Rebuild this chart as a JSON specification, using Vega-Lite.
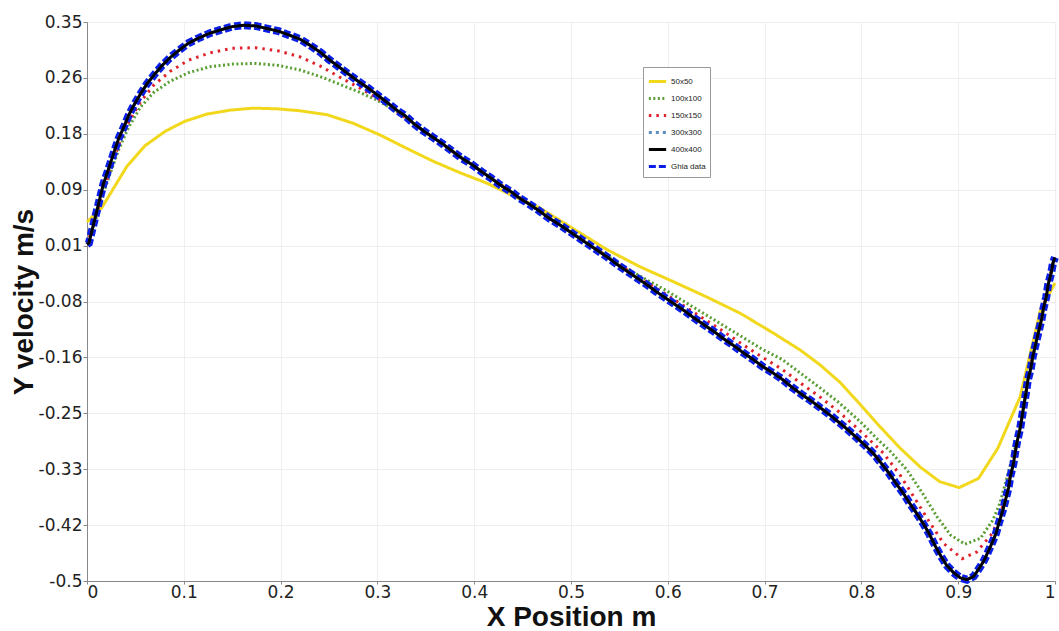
{
  "$schema": "https://vega.github.io/schema/vega-lite/v6.json",
  "width": 968,
  "height": 559,
  "autosize": "none",
  "padding": {"left": 87, "top": 22, "right": 4, "bottom": 50},
  "background": "white",
  "datasets": {
    "black": [
      {"x":0,"y":0.012},{"x":0.002,"y":0.014},{"x":0.005,"y":0.032},{"x":0.008,"y":0.050},{"x":0.011,"y":0.068},{"x":0.014,"y":0.086},{"x":0.017,"y":0.104},{"x":0.021,"y":0.121},{"x":0.025,"y":0.139},{"x":0.029,"y":0.157},{"x":0.033,"y":0.174},{"x":0.038,"y":0.190},{"x":0.043,"y":0.208},{"x":0.049,"y":0.225},{"x":0.055,"y":0.240},{"x":0.062,"y":0.256},{"x":0.069,"y":0.269},{"x":0.077,"y":0.283},{"x":0.086,"y":0.296},{"x":0.095,"y":0.307},{"x":0.105,"y":0.318},{"x":0.116,"y":0.326},{"x":0.127,"y":0.333},{"x":0.138,"y":0.338},{"x":0.150,"y":0.343},{"x":0.162,"y":0.345},{"x":0.174,"y":0.344},{"x":0.186,"y":0.340},{"x":0.198,"y":0.336},{"x":0.209,"y":0.330},{"x":0.220,"y":0.324},{"x":0.230,"y":0.315},{"x":0.241,"y":0.304},{"x":0.250,"y":0.293},{"x":0.260,"y":0.282},{"x":0.270,"y":0.271},{"x":0.280,"y":0.260},{"x":0.290,"y":0.250},{"x":0.300,"y":0.239},{"x":0.309,"y":0.229},{"x":0.319,"y":0.217},{"x":0.329,"y":0.207},{"x":0.338,"y":0.195},{"x":0.348,"y":0.184},{"x":0.358,"y":0.174},{"x":0.368,"y":0.164},{"x":0.377,"y":0.154},{"x":0.387,"y":0.143},{"x":0.398,"y":0.133},{"x":0.408,"y":0.122},{"x":0.417,"y":0.113},{"x":0.427,"y":0.102},{"x":0.438,"y":0.092},{"x":0.447,"y":0.082},{"x":0.458,"y":0.072},{"x":0.467,"y":0.063},{"x":0.478,"y":0.051},{"x":0.488,"y":0.042},{"x":0.498,"y":0.032},{"x":0.508,"y":0.022},{"x":0.518,"y":0.012},{"x":0.528,"y":0.002},{"x":0.538,"y":-0.008},{"x":0.548,"y":-0.019},{"x":0.558,"y":-0.029},{"x":0.568,"y":-0.039},{"x":0.578,"y":-0.049},{"x":0.588,"y":-0.060},{"x":0.598,"y":-0.070},{"x":0.608,"y":-0.080},{"x":0.618,"y":-0.090},{"x":0.628,"y":-0.101},{"x":0.638,"y":-0.111},{"x":0.648,"y":-0.121},{"x":0.658,"y":-0.132},{"x":0.668,"y":-0.142},{"x":0.678,"y":-0.153},{"x":0.688,"y":-0.163},{"x":0.698,"y":-0.174},{"x":0.708,"y":-0.183},{"x":0.718,"y":-0.193},{"x":0.728,"y":-0.205},{"x":0.738,"y":-0.216},{"x":0.748,"y":-0.226},{"x":0.757,"y":-0.236},{"x":0.767,"y":-0.247},{"x":0.777,"y":-0.259},{"x":0.786,"y":-0.270},{"x":0.795,"y":-0.282},{"x":0.804,"y":-0.294},{"x":0.813,"y":-0.307},{"x":0.820,"y":-0.320},{"x":0.828,"y":-0.335},{"x":0.835,"y":-0.350},{"x":0.843,"y":-0.366},{"x":0.850,"y":-0.382},{"x":0.857,"y":-0.397},{"x":0.864,"y":-0.413},{"x":0.870,"y":-0.428},{"x":0.876,"y":-0.446},{"x":0.882,"y":-0.462},{"x":0.888,"y":-0.476},{"x":0.895,"y":-0.487},{"x":0.902,"y":-0.495},{"x":0.909,"y":-0.498},{"x":0.916,"y":-0.493},{"x":0.922,"y":-0.480},{"x":0.927,"y":-0.468},{"x":0.932,"y":-0.452},{"x":0.935,"y":-0.442},{"x":0.939,"y":-0.428},{"x":0.942,"y":-0.412},{"x":0.946,"y":-0.393},{"x":0.949,"y":-0.376},{"x":0.952,"y":-0.358},{"x":0.954,"y":-0.340},{"x":0.957,"y":-0.322},{"x":0.959,"y":-0.303},{"x":0.961,"y":-0.287},{"x":0.964,"y":-0.268},{"x":0.966,"y":-0.250},{"x":0.968,"y":-0.231},{"x":0.970,"y":-0.214},{"x":0.972,"y":-0.194},{"x":0.975,"y":-0.177},{"x":0.977,"y":-0.159},{"x":0.980,"y":-0.140},{"x":0.983,"y":-0.121},{"x":0.986,"y":-0.103},{"x":0.988,"y":-0.086},{"x":0.991,"y":-0.068},{"x":0.993,"y":-0.049},{"x":0.996,"y":-0.032},{"x":0.998,"y":-0.016},{"x":1.0,"y":-0.008}
    ],
    "green": [
      {"x":0,"y":0.012},{"x":0.008,"y":0.045},{"x":0.017,"y":0.090},{"x":0.025,"y":0.124},{"x":0.033,"y":0.157},{"x":0.043,"y":0.190},{"x":0.055,"y":0.220},{"x":0.069,"y":0.243},{"x":0.086,"y":0.260},{"x":0.105,"y":0.273},{"x":0.127,"y":0.282},{"x":0.150,"y":0.286},{"x":0.174,"y":0.287},{"x":0.198,"y":0.284},{"x":0.220,"y":0.277},{"x":0.241,"y":0.267},{"x":0.260,"y":0.256},{"x":0.280,"y":0.244},{"x":0.300,"y":0.231},{"x":0.319,"y":0.214},{"x":0.338,"y":0.195},{"x":0.358,"y":0.174},{"x":0.377,"y":0.154},{"x":0.398,"y":0.133},{"x":0.417,"y":0.113},{"x":0.438,"y":0.092},{"x":0.458,"y":0.072},{"x":0.478,"y":0.051},{"x":0.498,"y":0.032},{"x":0.518,"y":0.012},{"x":0.538,"y":-0.006},{"x":0.558,"y":-0.025},{"x":0.578,"y":-0.042},{"x":0.598,"y":-0.058},{"x":0.618,"y":-0.076},{"x":0.638,"y":-0.094},{"x":0.658,"y":-0.112},{"x":0.678,"y":-0.130},{"x":0.698,"y":-0.148},{"x":0.718,"y":-0.163},{"x":0.738,"y":-0.185},{"x":0.757,"y":-0.206},{"x":0.777,"y":-0.229},{"x":0.799,"y":-0.258},{"x":0.815,"y":-0.282},{"x":0.830,"y":-0.303},{"x":0.847,"y":-0.331},{"x":0.862,"y":-0.364},{"x":0.878,"y":-0.402},{"x":0.892,"y":-0.430},{"x":0.907,"y":-0.444},{"x":0.923,"y":-0.435},{"x":0.936,"y":-0.407},{"x":0.943,"y":-0.382},{"x":0.950,"y":-0.345},{"x":0.956,"y":-0.312},{"x":0.961,"y":-0.287},{"x":0.964,"y":-0.268},{"x":0.968,"y":-0.231},{"x":0.972,"y":-0.194},{"x":0.977,"y":-0.159},{"x":0.983,"y":-0.121},{"x":0.988,"y":-0.086},{"x":0.993,"y":-0.049},{"x":0.998,"y":-0.016},{"x":1.0,"y":-0.008}
    ],
    "red": [
      {"x":0,"y":0.012},{"x":0.008,"y":0.047},{"x":0.017,"y":0.096},{"x":0.025,"y":0.130},{"x":0.033,"y":0.164},{"x":0.043,"y":0.198},{"x":0.055,"y":0.228},{"x":0.069,"y":0.254},{"x":0.086,"y":0.275},{"x":0.105,"y":0.292},{"x":0.127,"y":0.303},{"x":0.150,"y":0.310},{"x":0.174,"y":0.311},{"x":0.198,"y":0.306},{"x":0.220,"y":0.297},{"x":0.241,"y":0.283},{"x":0.260,"y":0.267},{"x":0.280,"y":0.251},{"x":0.300,"y":0.234},{"x":0.319,"y":0.215},{"x":0.338,"y":0.195},{"x":0.358,"y":0.174},{"x":0.377,"y":0.154},{"x":0.398,"y":0.133},{"x":0.417,"y":0.113},{"x":0.438,"y":0.092},{"x":0.458,"y":0.072},{"x":0.478,"y":0.051},{"x":0.498,"y":0.032},{"x":0.518,"y":0.012},{"x":0.538,"y":-0.007},{"x":0.558,"y":-0.027},{"x":0.578,"y":-0.046},{"x":0.598,"y":-0.064},{"x":0.618,"y":-0.083},{"x":0.638,"y":-0.102},{"x":0.658,"y":-0.121},{"x":0.678,"y":-0.141},{"x":0.698,"y":-0.160},{"x":0.718,"y":-0.178},{"x":0.738,"y":-0.200},{"x":0.757,"y":-0.220},{"x":0.777,"y":-0.243},{"x":0.799,"y":-0.272},{"x":0.823,"y":-0.306},{"x":0.840,"y":-0.339},{"x":0.855,"y":-0.374},{"x":0.871,"y":-0.412},{"x":0.885,"y":-0.443},{"x":0.904,"y":-0.466},{"x":0.919,"y":-0.456},{"x":0.935,"y":-0.428},{"x":0.943,"y":-0.402},{"x":0.950,"y":-0.365},{"x":0.956,"y":-0.325},{"x":0.959,"y":-0.303},{"x":0.961,"y":-0.287},{"x":0.964,"y":-0.268},{"x":0.968,"y":-0.231},{"x":0.972,"y":-0.194},{"x":0.977,"y":-0.159},{"x":0.983,"y":-0.121},{"x":0.988,"y":-0.086},{"x":0.993,"y":-0.049},{"x":0.998,"y":-0.016},{"x":1.0,"y":-0.008}
    ],
    "yellow": [
      {"x":0,"y":0.046},{"x":0.015,"y":0.067},{"x":0.041,"y":0.130},{"x":0.060,"y":0.162},{"x":0.081,"y":0.184},{"x":0.101,"y":0.199},{"x":0.124,"y":0.210},{"x":0.148,"y":0.216},{"x":0.172,"y":0.219},{"x":0.196,"y":0.218},{"x":0.220,"y":0.215},{"x":0.248,"y":0.209},{"x":0.275,"y":0.196},{"x":0.303,"y":0.178},{"x":0.330,"y":0.158},{"x":0.358,"y":0.138},{"x":0.385,"y":0.121},{"x":0.413,"y":0.105},{"x":0.434,"y":0.090},{"x":0.468,"y":0.067},{"x":0.502,"y":0.036},{"x":0.537,"y":0.004},{"x":0.571,"y":-0.022},{"x":0.606,"y":-0.045},{"x":0.640,"y":-0.068},{"x":0.675,"y":-0.093},{"x":0.709,"y":-0.123},{"x":0.737,"y":-0.149},{"x":0.757,"y":-0.171},{"x":0.778,"y":-0.198},{"x":0.799,"y":-0.232},{"x":0.819,"y":-0.265},{"x":0.840,"y":-0.298},{"x":0.861,"y":-0.327},{"x":0.881,"y":-0.349},{"x":0.901,"y":-0.358},{"x":0.921,"y":-0.344},{"x":0.941,"y":-0.298},{"x":0.964,"y":-0.220},{"x":0.985,"y":-0.088},{"x":1.0,"y":-0.047}
    ]
  },
  "encoding": {
    "x": {
      "field": "x", "type": "quantitative",
      "scale": {"domain": [0, 1], "nice": false, "zero": false},
      "axis": {
        "title": "X Position m",
        "values": [0, 0.1, 0.2, 0.3, 0.4, 0.5, 0.6, 0.7, 0.8, 0.9, 1],
        "format": "~g",
        "tickSize": 3,
        "labelPadding": 0,
        "titleY": 44,
        "titleBaseline": "alphabetic"
      }
    },
    "y": {
      "field": "y", "type": "quantitative",
      "scale": {"domain": [-0.5, 0.35], "nice": false, "zero": false},
      "axis": {
        "title": "Y velocity m/s",
        "values": [-0.5, -0.415, -0.33, -0.245, -0.16, -0.075, 0.01, 0.095, 0.18, 0.265, 0.35],
        "labelExpr": "['-0.5','-0.42','-0.33','-0.25','-0.16','-0.08','0.01','0.09','0.18','0.26','0.35'][round((datum.value+0.5)/0.085)]",
        "tickSize": 4,
        "labelPadding": 1,
        "titleX": -55,
        "titleBaseline": "alphabetic"
      }
    }
  },
  "layer": [
    {
      "data": {"name": "yellow"},
      "mark": {"type": "line", "strokeWidth": 3, "strokeCap": "butt"},
      "encoding": {
        "color": {"datum": "50x50", "type": "nominal",
          "scale": {"domain": ["50x50", "100x100", "150x150", "300x300", "400x400", "Ghia data"], "range": ["#f2d81c", "#5a9d32", "#e0232b", "#5b8cc0", "#000000", "#0a1ee8"]},
          "legend": {"title": null, "orient": "none", "legendX": 556, "legendY": 45}},
        "strokeDash": {"datum": "50x50", "type": "nominal",
          "scale": {"domain": ["50x50", "100x100", "150x150", "300x300", "400x400", "Ghia data"], "range": [[1, 0], [2, 2.5], [2.5, 5], [3, 4], [1, 0], [7, 3]]},
          "legend": {"title": null, "orient": "none", "legendX": 556, "legendY": 45}}
      }
    },
    {
      "data": {"name": "green"},
      "mark": {"type": "line", "strokeWidth": 3, "strokeCap": "butt"},
      "encoding": {
        "color": {"datum": "100x100", "type": "nominal"},
        "strokeDash": {"datum": "100x100", "type": "nominal"}
      }
    },
    {
      "data": {"name": "red"},
      "mark": {"type": "line", "strokeWidth": 3, "strokeCap": "butt"},
      "encoding": {
        "color": {"datum": "150x150", "type": "nominal"},
        "strokeDash": {"datum": "150x150", "type": "nominal"}
      }
    },
    {
      "data": {"name": "black"},
      "mark": {"type": "line", "strokeWidth": 8, "strokeCap": "butt"},
      "encoding": {
        "color": {"datum": "Ghia data", "type": "nominal"},
        "strokeDash": {"datum": "Ghia data", "type": "nominal"}
      }
    },
    {
      "data": {"name": "black"},
      "mark": {"type": "line", "strokeWidth": 3, "strokeCap": "butt"},
      "encoding": {
        "color": {"datum": "300x300", "type": "nominal"},
        "strokeDash": {"datum": "300x300", "type": "nominal"}
      }
    },
    {
      "data": {"name": "black"},
      "mark": {"type": "line", "strokeWidth": 3, "strokeCap": "butt"},
      "encoding": {
        "color": {"datum": "400x400", "type": "nominal"},
        "strokeDash": {"datum": "400x400", "type": "nominal"}
      }
    }
  ],
  "config": {
    "view": {"stroke": null},
    "axis": {
      "labelFont": "DejaVu Sans",
      "labelFontSize": 17,
      "labelColor": "#222222",
      "titleFont": "Liberation Sans",
      "titleFontWeight": "bold",
      "titleFontSize": 28,
      "titleColor": "#111111",
      "domainColor": "#888888",
      "tickColor": "#888888",
      "gridColor": "#efefef",
      "gridWidth": 1
    },
    "legend": {
      "labelFont": "Liberation Sans",
      "labelFontSize": 8,
      "labelColor": "#222222",
      "symbolType": "stroke",
      "symbolSize": 300,
      "symbolStrokeWidth": 3,
      "rowPadding": -6,
      "padding": 4,
      "strokeColor": "#999999",
      "fillColor": "white",
      "labelOffset": 3,
      "symbolOffset": 0
    }
  }
}
